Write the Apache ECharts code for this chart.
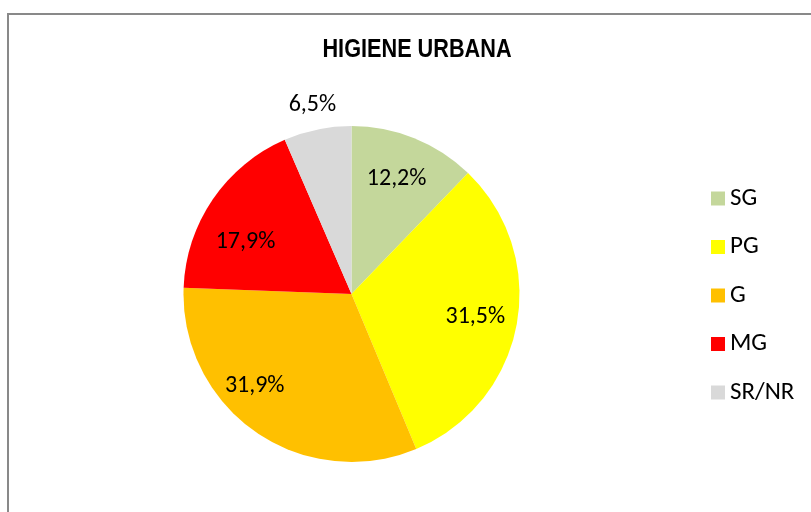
<!DOCTYPE html>
<html>
<head>
<meta charset="utf-8">
<script src="https://cdn.jsdelivr.net/npm/echarts@6/dist/echarts.min.js"></script>
<style>
html,body{margin:0;padding:0;background:#fff;}
#c{width:811px;height:512px;}
</style>
</head>
<body>
<div id="c"></div>
<script>
const categories = ['SG', 'PG', 'G', 'MG', 'SR/NR'];
const values = [12.2, 31.5, 31.9, 17.9, 6.5];
const colors = ['#C4D79B', '#FFFF00', '#FFC000', '#FF0000', '#D9D9D9'];
const outsideLabels = ['SR/NR'];

// label nudges to mimic the original placement (style only)
const labelNudge = { 'SG': [-2, 2], 'G': [-25, -12], 'MG': [-2, 19] };

const labelFont = "Calibri, Carlito, Lato, sans-serif";
const fmt = p => p.value.toFixed(1).replace('.', ',') + '%';

const baseData = categories.map((c, i) => ({ name: c, value: values[i], itemStyle: { color: colors[i] } }));
const innerLabelData = categories.map((c, i) => ({
  name: c, value: values[i],
  label: { show: outsideLabels.indexOf(c) < 0, offset: labelNudge[c] || [0, 0] }
}));
const outerLabelData = categories.map((c, i) => ({
  name: c, value: values[i],
  label: { show: outsideLabels.indexOf(c) >= 0 }
}));

const chart = echarts.init(document.getElementById('c'), null, { renderer: 'canvas' });
chart.setOption({
  animation: false,
  backgroundColor: '#fff',
  color: colors,
  legend: {
    orient: 'vertical', left: 706, top: 181,
    itemWidth: 14, itemHeight: 14, itemGap: 23.5, icon: 'rect',
    data: categories,
    textStyle: { fontFamily: labelFont, fontSize: 25, lineHeight: 24, color: '#000' }
  },
  graphic: [{
    type: 'rect', silent: true,
    shape: { x: 8, y: 14, width: 900, height: 600 },
    style: { fill: 'none', stroke: '#898989', lineWidth: 2 }
  }, {
    type: 'text', silent: true, x: 417, y: 50, scaleX: 0.867,
    style: {
      text: 'HIGIENE URBANA', fill: '#000',
      font: "bold 25px 'Liberation Sans Narrow', 'Arial Narrow', 'Liberation Sans', Arial, sans-serif",
      textAlign: 'center', textVerticalAlign: 'middle'
    }
  }],
  series: [
    {
      type: 'pie', center: [351.5, 294], radius: [0, 168], startAngle: 90, clockwise: true,
      silent: true, label: { show: false }, labelLine: { show: false },
      data: baseData
    },
    {
      type: 'pie', center: [351.5, 294], radius: [78, 168], startAngle: 90, clockwise: true,
      silent: true, itemStyle: { color: 'rgba(0,0,0,0)' },
      label: { position: 'inside', formatter: fmt, fontFamily: labelFont, fontSize: 24, color: '#000' },
      labelLine: { show: false },
      data: innerLabelData
    },
    {
      type: 'pie', center: [351.5, 294], radius: [168, 212], startAngle: 90, clockwise: true,
      silent: true, itemStyle: { color: 'rgba(0,0,0,0)' },
      label: { position: 'inside', formatter: fmt, fontFamily: labelFont, fontSize: 24, color: '#000' },
      labelLine: { show: false },
      data: outerLabelData
    }
  ]
});
</script>
</body>
</html>
